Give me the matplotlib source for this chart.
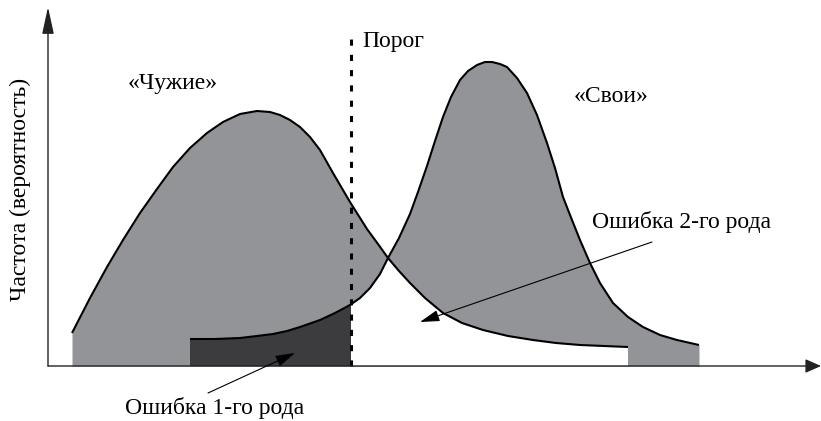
import numpy as np
import matplotlib.pyplot as plt

plt.rcParams['font.family'] = ['Liberation Serif', 'DejaVu Serif']

# "Чужие" curve: position along the axis and height above the baseline
alien_x = np.array([24, 42, 59, 75, 92, 109, 125, 142, 159, 175, 192, 209, 222,
                    232, 242, 252, 262, 272, 285, 302, 319, 330, 340, 351, 362,
                    377, 395, 414, 435, 460, 485, 508, 532, 556, 580])
alien_h = np.array([33, 68, 99, 126, 153, 177, 199, 218, 233, 244, 252, 255, 254,
                    251, 246, 239, 229, 216, 193, 164, 137, 122, 108, 95, 83,
                    68, 53, 43, 36, 30, 26, 23, 21, 20, 19])

# "Свои" curve
own_x = np.array([142, 167, 192, 209, 225, 239, 252, 272, 287, 302, 312, 322,
                  332, 340, 351, 362, 370, 379, 387, 395, 403, 412, 420, 429,
                  437, 444, 452, 459, 469, 479, 489, 499, 507, 515, 524, 532,
                  542, 552, 565, 580, 595, 612, 629, 651])
own_h = np.array([27, 27, 28, 30, 32, 35, 39, 46, 53, 61, 68, 78,
                  92, 108, 128, 152, 174, 200, 225, 249, 269, 286, 295, 301,
                  304, 304, 302, 299, 288, 273, 251, 223, 198, 169, 146, 126,
                  103, 83, 63, 49, 39, 31, 26, 21])

threshold = 303
cross_x = 340

gray = '#929497'
dark = '#3c3c3e'

fig = plt.figure(figsize=(8.21, 4.21), dpi=100)
ax = fig.add_axes([0, 0, 1, 1])
ax.set_xlim(-48, 773)
ax.set_ylim(-55, 366)
ax.axis('off')

# both distributions in gray
ax.fill_between(alien_x, 0, alien_h, color=gray, lw=0)
ax.fill_between(own_x, 0, own_h, color=gray, lw=0)

# error of the 1st kind: under "own" curve, left of threshold
h_thr = np.interp(threshold, own_x, own_h)
m = own_x < threshold
ax.fill(np.r_[own_x[m][0], own_x[m], threshold, threshold],
        np.r_[0, own_h[m], h_thr, 0], color=dark, lw=0)

# under both curves right of threshold stays white
m1 = (own_x > threshold) & (own_x <= cross_x)
m2 = alien_x >= cross_x
ax.fill(np.r_[threshold, threshold, own_x[m1], alien_x[m2], alien_x[-1]],
        np.r_[0, h_thr, own_h[m1], alien_h[m2], 0], color='white', lw=0)

ax.plot(alien_x, alien_h, color='black', lw=1.5, solid_capstyle='butt')
ax.plot(own_x, own_h, color='black', lw=1.5, solid_capstyle='butt')

# threshold
ax.plot([threshold, threshold], [0, 333], color='black', lw=2.2, dashes=(2, 3))

# axes with arrows
ax.annotate('', xy=(773, 0), xytext=(0, 0),
            arrowprops=dict(arrowstyle='-|>,head_length=0.95,head_width=0.42',
                            mutation_scale=10, lw=1, color='#222222',
                            shrinkA=0, shrinkB=0))
ax.annotate('', xy=(0, 359), xytext=(0, 0),
            arrowprops=dict(arrowstyle='-|>,head_length=1.65,head_width=0.36',
                            mutation_scale=10, lw=1, color='#222222',
                            shrinkA=0, shrinkB=0))

fs = 17
ax.text(125, 282, '«Чужие»', fontsize=fs, ha='center', va='center')
ax.text(563, 269, '«Свои»', fontsize=fs, ha='center', va='center')
ax.text(314, 324, 'Порог', fontsize=fs, ha='left', va='center')
ax.text(544, 144, 'Ошибка 2-го рода', fontsize=fs, ha='left', va='center')
ax.text(77, -42, 'Ошибка 1-го рода', fontsize=fs, ha='left', va='center')
ax.text(-28, 177, 'Частота (вероятность)', fontsize=fs, ha='center',
        va='center', rotation=90)

err_arrow = dict(arrowstyle='-|>,head_length=1.2,head_width=0.35',
                 mutation_scale=10, lw=0.8, color='black',
                 shrinkA=0, shrinkB=0)
ax.annotate('', xy=(372, 44), xytext=(604, 124), arrowprops=err_arrow)
ax.annotate('', xy=(247, 13), xytext=(160, -27), arrowprops=err_arrow)

fig.savefig('out.png', dpi=100)
